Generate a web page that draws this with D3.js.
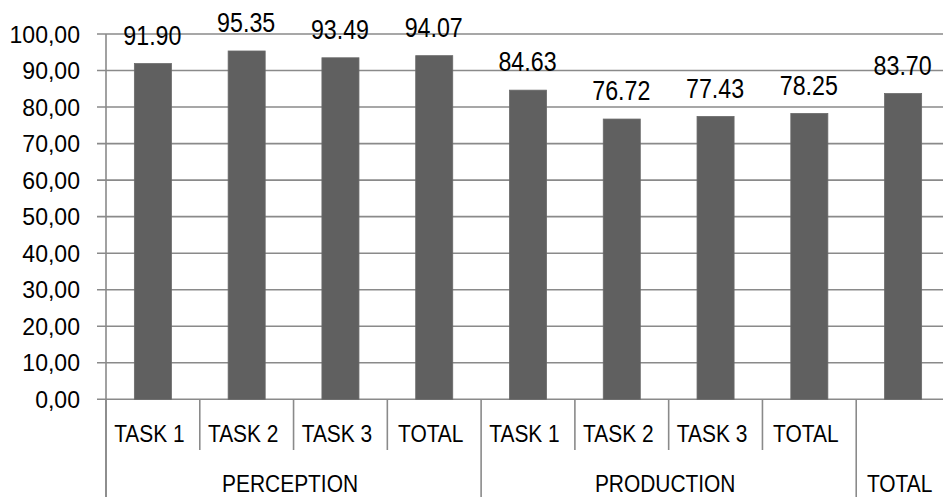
<!DOCTYPE html>
<html>
<head>
<meta charset="utf-8">
<script src="https://cdn.jsdelivr.net/npm/d3@7/dist/d3.min.js"></script>
<style>
  html, body { margin: 0; padding: 0; background: #fff; overflow: hidden; }
  svg { display: block; }
  text { font-family: "Liberation Sans", Arial, sans-serif; fill: #000; }
</style>
</head>
<body>
<svg id="chart" width="943" height="497"></svg>
<script>
// Scores per task, grouped by skill
const taskLabels = ["TASK 1", "TASK 2", "TASK 3", "TOTAL", "TASK 1", "TASK 2", "TASK 3", "TOTAL", ""];
const groupLabels = ["PERCEPTION", "PRODUCTION", "TOTAL"];
const groupSizes = [4, 4, 1];
const scores = [91.90, 95.35, 93.49, 94.07, 84.63, 76.72, 77.43, 78.25, 83.70];
const yTicks = [0, 10, 20, 30, 40, 50, 60, 70, 80, 90, 100];

(function () {
  const svg = d3.select("#chart");
  const plotLeft = 106, plotRight = 950, plotTop = 34, plotBottom = 399.3;
  const gridColor = "#8a8a8a";
  const barColor = "#606060";

  const idx = d3.range(scores.length);
  const x = d3.scaleBand().domain(idx).range([plotLeft, plotRight]).paddingInner(0).paddingOuter(0);
  const y = d3.scaleLinear().domain([0, 100]).range([plotBottom, plotTop]);
  const fmtTick = v => d3.format(".2f")(v).replace(".", ",");

  // horizontal gridlines with outward ticks
  svg.append("g").selectAll("line").data(yTicks).join("line")
    .attr("x1", plotLeft - 9).attr("x2", plotRight)
    .attr("y1", d => y(d)).attr("y2", d => y(d))
    .attr("stroke", gridColor).attr("stroke-width", 1.6);

  // y tick labels
  svg.append("g").selectAll("text").data(yTicks).join("text")
    .attr("text-anchor", "end")
    .attr("font-size", 24)
    .attr("transform", d => `translate(80,${y(d) + 8.5}) scale(0.96,1)`)
    .text(fmtTick);

  // vertical value axis
  svg.append("line")
    .attr("x1", plotLeft).attr("x2", plotLeft).attr("y1", plotTop).attr("y2", 497)
    .attr("stroke", gridColor).attr("stroke-width", 1.6);

  // bars
  const barW = x.bandwidth() * 0.395;
  svg.append("g").selectAll("rect").data(idx).join("rect")
    .attr("x", i => x(i) + (x.bandwidth() - barW) / 2)
    .attr("width", barW)
    .attr("y", i => y(scores[i]))
    .attr("height", i => y(0) - y(scores[i]))
    .attr("fill", barColor)
    .attr("stroke", "#6a6a6a").attr("stroke-width", 0.8);

  // value labels
  svg.append("g").selectAll("text").data(idx).join("text")
    .attr("text-anchor", "middle")
    .attr("font-size", 27)
    .attr("transform", i => `translate(${x(i) + x.bandwidth() / 2 - 0.5},${y(scores[i]) - 18.8}) scale(0.86,1)`)
    .text(i => scores[i].toFixed(2));

  // group boundaries
  const groupStarts = [];
  let acc = 0;
  groupSizes.forEach(n => { groupStarts.push(acc); acc += n; });
  const groupBounds = new Set(groupStarts.concat([acc]));

  // separators under the axis: short between tasks, long between groups
  svg.append("g").selectAll("line").data(d3.range(scores.length + 1)).join("line")
    .attr("x1", i => i < scores.length ? x(i) : plotRight)
    .attr("x2", i => i < scores.length ? x(i) : plotRight)
    .attr("y1", plotBottom)
    .attr("y2", i => groupBounds.has(i) ? 497 : 450)
    .attr("stroke", gridColor).attr("stroke-width", 1.6);

  // task labels
  svg.append("g").selectAll("text").data(idx.filter(i => taskLabels[i])).join("text")
    .attr("text-anchor", "middle")
    .attr("font-size", 23)
    .attr("transform", i => `translate(${x(i) + x.bandwidth() / 2 - 3.5},441.5) scale(0.91,1)`)
    .text(i => taskLabels[i]);

  // group labels
  svg.append("g").selectAll("text").data(groupLabels).join("text")
    .attr("text-anchor", "middle")
    .attr("font-size", 23)
    .attr("transform", (d, g) => {
      const a = x(groupStarts[g]);
      const b = x(groupStarts[g] + groupSizes[g] - 1) + x.bandwidth();
      return `translate(${(a + b) / 2 - 3.5},492.3) scale(0.91,1)`;
    })
    .text(d => d);
})();
</script>
</body>
</html>
